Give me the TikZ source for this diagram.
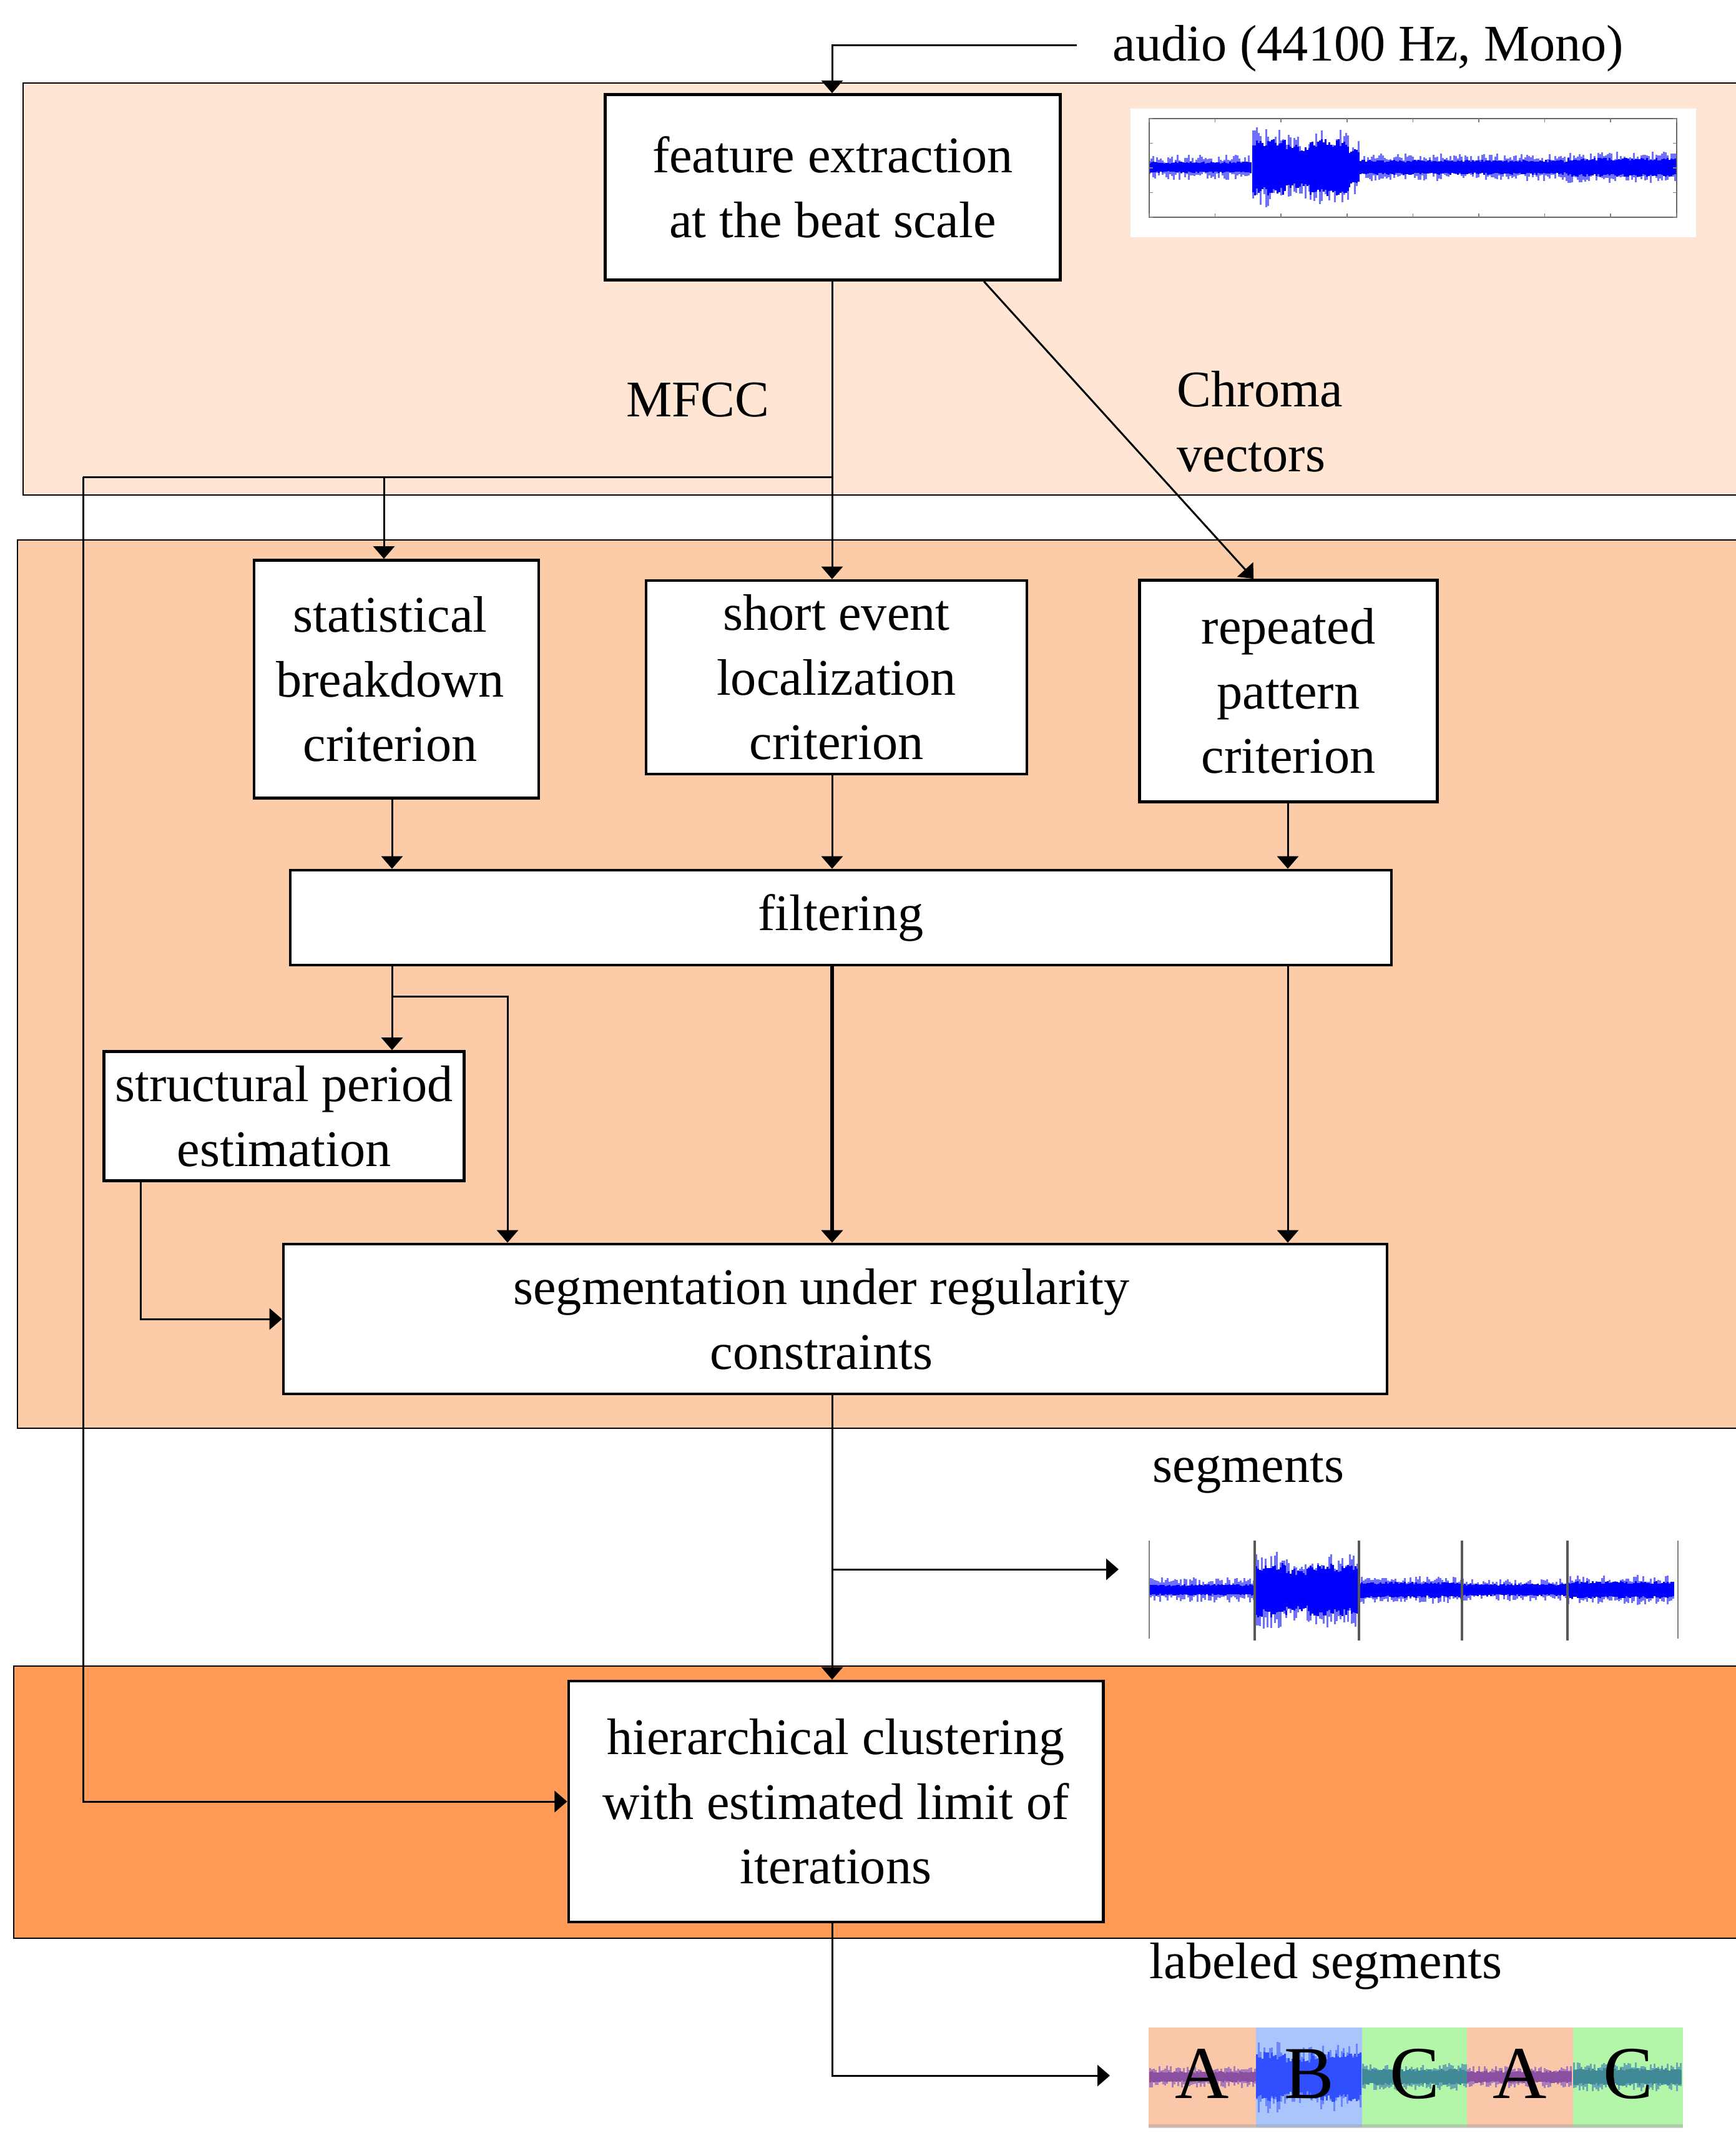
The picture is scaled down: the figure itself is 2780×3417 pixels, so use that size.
\documentclass[tikz,border=0pt]{standalone}
\usepackage{fontspec}
\setmainfont{Liberation Serif}
\usetikzlibrary{arrows.meta,calc}
\definecolor{bandA}{HTML}{FEE5D4}
\definecolor{bandB}{HTML}{FCCBA7}
\definecolor{bandC}{HTML}{FF9A57}
\definecolor{wblue}{HTML}{0000FF}
\definecolor{wlight}{HTML}{7070FF}
\definecolor{segA}{HTML}{FAC8A8}
\definecolor{segB}{HTML}{A9C5FB}
\definecolor{segC}{HTML}{B3F5A9}
\definecolor{wavAd}{HTML}{8A4FA0}
\definecolor{wavAl}{HTML}{A67CBC}
\definecolor{wavBd}{HTML}{3050FF}
\definecolor{wavBl}{HTML}{6A86FF}
\definecolor{wavCd}{HTML}{3F8A96}
\definecolor{wavCl}{HTML}{68A8B0}
\newcommand\wavesec[7]{%
  \pgfmathtruncatemacro\wvn{(#2-#1)/3}%
  \foreach \k in {0,...,\wvn}{%
    \pgfmathsetmacro\wx{#1+3*\k}%
    \pgfmathsetmacro\wa{#5*(0.35+0.65*rnd)}%
    \pgfmathsetmacro\wb{#5*(0.35+0.65*rnd)}%
    \draw[#7, line width=0.03cm] (\wx,#3-\wa) -- (\wx,#3+\wb);
    \pgfmathsetmacro\wa{#4*(0.7+0.3*rnd)}%
    \pgfmathsetmacro\wb{#4*(0.7+0.3*rnd)}%
    \draw[#6, line width=0.03cm] (\wx,#3-\wa) -- (\wx,#3+\wb);
  }}
\tikzset{
  box/.style={draw=black, line width=0.045cm, fill=white, align=center, inner sep=0pt},
  lbl/.style={align=center, inner sep=0pt},
  conn/.style={line width=0.03cm},
  arr/.style={conn, -{Triangle[length=0.2cm,width=0.34cm]}},
  bandbox/.style={draw=black, line width=0.02cm},
  letter/.style={inner sep=0pt, font=\fontsize{34pt}{40pt}\selectfont}
}
\begin{document}
\begin{tikzpicture}[x=0.01cm, y=-0.01cm, every node/.style={font=\fontsize{23.4pt}{29.5pt}\selectfont}]
\useasboundingbox (0,0) rectangle (2780,3417);
\pgfmathsetseed{42}
% bands
\fill[bandA, bandbox] (37,133) rectangle (2800,793);
\fill[bandB, bandbox] (28,865) rectangle (2800,2288);
\fill[bandC, bandbox] (22,2669) rectangle (2800,3105);

% waveform 1
\fill[white] (1811,174) rectangle (2717,380);
\wavesec{1841}{2005}{268}{9}{20}{wblue}{wlight}
\wavesec{2007}{2060}{268}{46}{64}{wblue}{wlight}
\wavesec{2061}{2098}{268}{36}{52}{wblue}{wlight}
\wavesec{2099}{2160}{268}{46}{62}{wblue}{wlight}
\wavesec{2161}{2178}{268}{32}{44}{wblue}{wlight}
\wavesec{2179}{2510}{268}{12}{22}{wblue}{wlight}
\wavesec{2512}{2683}{268}{15}{25}{wblue}{wlight}
\draw[gray!80!black, line width=0.02cm] (1841,190) rectangle (2686,348);
\foreach \t in {0,...,8}{
  \draw[gray, line width=0.015cm] (1841+105.6*\t,190) -- ++(0,6) (1841+105.6*\t,348) -- ++(0,-6);}
\foreach \t in {0,...,4}{
  \draw[gray, line width=0.015cm] (1841,190+39.5*\t) -- ++(6,0) (2686,190+39.5*\t) -- ++(-6,0);}

% waveform 2
\fill[white] (1701,2452) rectangle (2780,2662);
\wavesec{1843}{2008}{2547}{9}{20}{wblue}{wlight}
\wavesec{2012}{2060}{2547}{44}{62}{wblue}{wlight}
\wavesec{2061}{2095}{2547}{34}{50}{wblue}{wlight}
\wavesec{2096}{2177}{2547}{42}{60}{wblue}{wlight}
\wavesec{2178}{2341}{2547}{13}{22}{wblue}{wlight}
\wavesec{2343}{2510}{2547}{10}{18}{wblue}{wlight}
\wavesec{2512}{2680}{2547}{14}{24}{wblue}{wlight}
\foreach \sx in {1841,2688}{
  \draw[gray, line width=0.02cm] (\sx,2468) -- (\sx,2625);}
\foreach \sx in {2010,2177,2342,2511}{
  \draw[black!65, line width=0.035cm] (\sx,2468) -- (\sx,2628);}

% labeled segments
\fill[segA] (1840,3248) rectangle (2012,3408);
\fill[segB] (2012,3248) rectangle (2182,3408);
\fill[segC] (2182,3248) rectangle (2350,3408);
\fill[segA] (2350,3248) rectangle (2520,3408);
\fill[segC] (2520,3248) rectangle (2696,3408);
\fill[black!35, opacity=0.5] (1840,3403) rectangle (2696,3409);
\wavesec{1842}{2010}{3327}{9}{18}{wavAd}{wavAl}
\wavesec{2013}{2060}{3327}{40}{58}{wavBd}{wavBl}
\wavesec{2061}{2100}{3327}{32}{48}{wavBd}{wavBl}
\wavesec{2101}{2180}{3327}{40}{56}{wavBd}{wavBl}
\wavesec{2183}{2348}{3327}{13}{22}{wavCd}{wavCl}
\wavesec{2351}{2518}{3327}{10}{18}{wavAd}{wavAl}
\wavesec{2521}{2694}{3327}{14}{24}{wavCd}{wavCl}
\node[letter] (la1) at (1926,3322) {A};
\node[letter] (lb1) at (2097,3322) {B};
\node[letter] (lc1) at (2266,3322) {C};
\node[letter] (la2) at (2435,3322) {A};
\node[letter] (lc2) at (2608,3322) {C};

% boxes
\node[box, minimum width=7.29cm, minimum height=2.97cm] (fe) at (1334,300) {feature extraction\\at the beat scale};
\node[box, minimum width=4.56cm, minimum height=3.81cm] (sb) at (635,1088) {\hspace*{-0.2cm}statistical\\\hspace*{-0.2cm}breakdown\\\hspace*{-0.2cm}criterion};
\node[box, minimum width=6.10cm, minimum height=3.10cm] (se) at (1340,1085) {short event\\localization\\criterion};
\node[box, minimum width=4.77cm, minimum height=3.55cm] (rp) at (2064,1107) {repeated\\pattern\\criterion};
\node[box, minimum width=17.63cm, minimum height=1.52cm] (fl) at (1347,1470) {\raisebox{0.12cm}{filtering}};
\node[box, minimum width=5.77cm, minimum height=2.07cm] (sp) at (455,1788) {structural period\\estimation};
\node[box, minimum width=17.67cm, minimum height=2.40cm] (sg) at (1338,2113) {\hspace*{-0.44cm}segmentation under regularity\\\hspace*{-0.44cm}constraints};
\node[box, minimum width=8.56cm, minimum height=3.86cm] (hc) at (1339,2886) {hierarchical clustering\\with estimated limit of\\iterations};

% labels
\node[lbl] (audio) at (2192,78) {audio (44100 Hz, Mono)};
\node[lbl] (mfcc) at (1118,641) {MFCC};
\node[lbl, anchor=west, align=left] (chroma) at (1885,675) {Chroma\\vectors};
\node[lbl] (segl) at (2000,2360) {segments};
\node[lbl] (labl) at (2124,3150) {labeled segments};

% connectors
\coordinate (spine) at (1333,0);
\coordinate (ain) at (1725,72);
\coordinate (mj) at (1333,764);
\coordinate (lft) at (133,764);
\coordinate (b1) at (615,764);
\coordinate (c1) at (628,0);
\coordinate (c2) at (813,1596);
\coordinate (c3) at (2063,0);
\coordinate (c4) at (225,0);
\coordinate (segtip) at (1792,2514);
\coordinate (labtip) at (1778,3325);

\draw[arr] (ain) -| (spine |- fe.north);
\draw[arr] (spine |- fe.south) -- (spine |- se.north);
\draw[conn] (mj) -- (lft);
\draw[arr] (lft) |- (hc.west);
\draw[arr] (b1) -- (b1 |- sb.north);
\draw[arr] ($(fe.south west)!0.83!(fe.south east)$) -- ($(rp.north west)!0.384!(rp.north east)$);
\draw[arr] (c1 |- sb.south) -- (c1 |- fl.north);
\draw[arr] (spine |- se.south) -- (spine |- fl.north);
\draw[arr] (c3 |- rp.south) -- (c3 |- fl.north);
\draw[arr] (c1 |- fl.south) -- (c1 |- sp.north);
\draw[arr] (c1 |- c2) -- (c2) -- (c2 |- sg.north);
\draw[arr, line width=0.055cm] (spine |- fl.south) -- (spine |- sg.north);
\draw[arr] (c3 |- fl.south) -- (c3 |- sg.north);
\draw[arr] (c4 |- sp.south) |- (sg.west);
\draw[arr] (spine |- sg.south) -- (spine |- hc.north);
\draw[arr] (spine |- segtip) -- (segtip);
\draw[arr] (spine |- hc.south) |- (labtip);
\end{tikzpicture}
\end{document}
